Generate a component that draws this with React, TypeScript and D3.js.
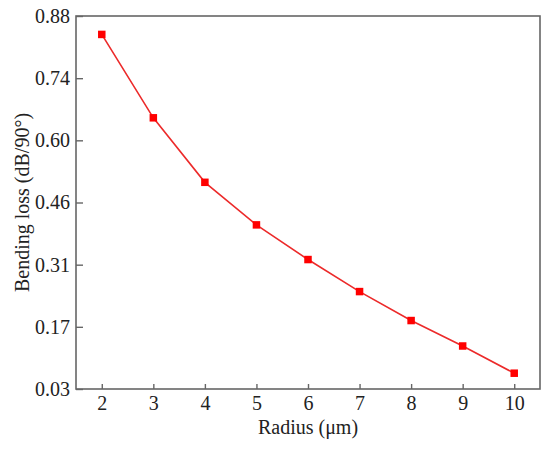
import { useEffect, useRef } from "react";
import * as d3 from "d3";

const radius = [2, 3, 4, 5, 6, 7, 8, 9, 10];
const loss = [0.838, 0.648, 0.501, 0.404, 0.325, 0.252, 0.186, 0.128, 0.066];
const yTicks = [0.03, 0.1717, 0.3133, 0.455, 0.5967, 0.7383, 0.88];
const xTicks = [2, 3, 4, 5, 6, 7, 8, 9, 10];

export default function App() {
  const ref = useRef<SVGSVGElement>(null);
  useEffect(() => {
    if (!ref.current) return;
    const svg = d3.select(ref.current);
    svg.selectAll("*").remove();
    const W = 550, H = 450, m = { l: 76, r: 10, t: 16, b: 61 };
    const font = "'Liberation Serif', 'Times New Roman', serif";
    const fs = 20;
    const x = d3.scaleLinear([1.5, 10.5], [m.l, W - m.r]);
    const y = d3.scaleLinear([0.03, 0.88], [H - m.b, m.t]);
    const axisColor = "#666";

    // straight segments between the measured points
    const line = d3.line<number>().x((_, i) => x(radius[i])).y((d) => y(d));
    svg.append("path").datum(loss).attr("d", line).attr("fill", "none")
      .attr("stroke", "#ec2a2a").attr("stroke-width", 1.6);

    const s = 7.5;
    svg.selectAll("rect.pt").data(loss).enter().append("rect").attr("class", "pt")
      .attr("x", (_, i) => x(radius[i]) - s / 2).attr("y", (d) => y(d) - s / 2)
      .attr("width", s).attr("height", s).attr("fill", "#ff0000");

    svg.append("rect").attr("x", m.l).attr("y", m.t)
      .attr("width", W - m.r - m.l).attr("height", H - m.b - m.t)
      .attr("fill", "none").attr("stroke", axisColor).attr("stroke-width", 1.6);

    const gx = svg.append("g").attr("transform", `translate(0,${H - m.b})`)
      .call(d3.axisBottom(x).tickValues(xTicks).tickSizeInner(-5).tickSizeOuter(0).tickPadding(7).tickFormat(d3.format("d")));
    const gy = svg.append("g").attr("transform", `translate(${m.l},0)`)
      .call(d3.axisLeft(y).tickValues(yTicks).tickSizeInner(-7).tickSizeOuter(0).tickPadding(6).tickFormat(d3.format(".2f")));
    [gx, gy].forEach((g) => {
      g.select(".domain").remove();
      g.selectAll("line").attr("stroke", axisColor).attr("stroke-width", 1.4);
      g.selectAll("text").attr("font-family", font).attr("font-size", fs).attr("fill", "#222");
    });

    svg.append("text").attr("x", (m.l + W - m.r) / 2).attr("y", 434)
      .attr("text-anchor", "middle").attr("font-family", font).attr("font-size", fs).attr("fill", "#222")
      .text("Radius (μm)");
    svg.append("text").attr("transform", `translate(29,${(m.t + H - m.b) / 2}) rotate(-90)`)
      .attr("text-anchor", "middle").attr("font-family", font).attr("font-size", fs).attr("fill", "#222")
      .text("Bending loss (dB/90°)");
  }, []);
  return <svg ref={ref} width={550} height={450} style={{ position: "absolute", left: 0, top: 0, background: "#fff" }} />;
}
